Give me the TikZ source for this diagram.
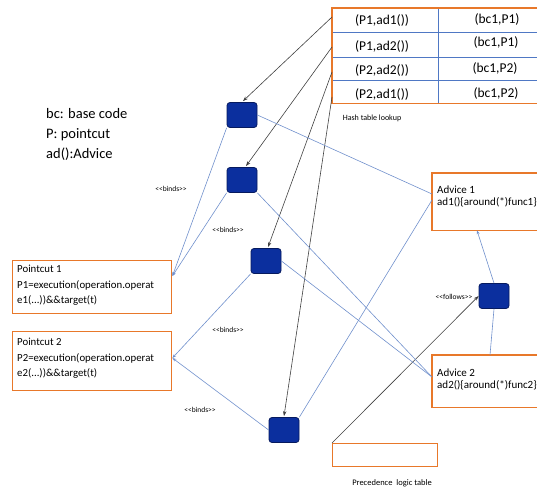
\documentclass[tikz,border=0pt]{standalone}
\usepackage{fontspec}
\setmainfont{Carlito}
\usetikzlibrary{arrows.meta,calc}
\definecolor{orng}{HTML}{E8782A}
\definecolor{lblue}{HTML}{7090CC}
\definecolor{tblue}{HTML}{4F78C4}
\definecolor{sqfill}{HTML}{0B2F9E}
\definecolor{sqdraw}{HTML}{061A5E}
\begin{document}
\begin{tikzpicture}[x=1pt,y=-1pt,
 sq/.style={draw=sqdraw,fill=sqfill,line width=0.8pt,rounded corners=3pt,minimum width=30pt,minimum height=25pt,inner sep=0pt},
 obox/.style={draw=orng,line width=1.4pt,anchor=north west,inner sep=0pt},
 openbox/.style={anchor=north west,inner sep=0pt},
 oline/.style={draw=orng,line width=1.4pt},
 btxt/.style={anchor=north west,align=left,inner sep=0pt,font=\fontsize{11}{12}\selectfont},
 ptxt/.style={anchor=north west,align=left,inner sep=0pt,font=\fontsize{10.8}{15.5}\selectfont},
 bl/.style={draw=lblue,line width=0.6pt},
 blarr/.style={bl,-{Stealth[length=4pt,width=3pt]}},
 blk/.style={draw=black!75,line width=0.6pt,-{Stealth[length=5pt,width=3.5pt]}},
 lbl/.style={font=\fontsize{7.5}{8}\selectfont,inner sep=0pt},
 ttxt/.style={font=\fontsize{13.5}{15}\selectfont,inner sep=0pt},
]
\useasboundingbox (0,0) rectangle (537,492);

% hash table (open on the right, as in the reference)
\node[openbox,minimum width=205pt,minimum height=95pt] (tbl) at (332,8) {};
\draw[tblue,line width=0.6pt] (332,32) -- (537,32) (332,57) -- (537,57) (332,80) -- (537,80) (438,8) -- (438,103);
\draw[oline] (tbl.north east) -- (tbl.north west) -- (tbl.south west) -- (tbl.south east);
\node[ttxt] (t11) at (382,21) {(P1,ad1())};
\node[ttxt] (t12) at (497,19) {(bc1,P1)};
\node[ttxt] (t21) at (382,46) {(P1,ad2())};
\node[ttxt] (t22) at (496,43) {(bc1,P1)};
\node[ttxt] (t31) at (382,70) {(P2,ad2())};
\node[ttxt] (t32) at (495,68) {(bc1,P2)};
\node[ttxt] (t41) at (382,94) {(P2,ad1())};
\node[ttxt] (t42) at (496,93) {(bc1,P2)};
\node[lbl,font=\fontsize{8}{9}\selectfont] (hash) at (372,118) {Hash table lookup};

% legend
\node[anchor=north west,align=left,inner sep=0pt,font=\fontsize{14.5}{20}\selectfont] (leg) at (46,108) {bc: base code\\P: pointcut\\ad():Advice};

% squares
\node[sq] (s1) at (242,115) {};
\node[sq] (s2) at (242,180) {};
\node[sq] (s3) at (266,261) {};
\node[sq] (s4) at (284,430) {};
\node[sq] (s5) at (494,296) {};

% pointcut boxes
\node[obox,minimum width=159pt,minimum height=53pt] (p1) at (12,260) {};
\node[ptxt] (p1t) at (17,265) {Pointcut 1\\P1=execution(operation.operat\\e1(...))\&\&target(t)};
\node[obox,minimum width=159pt,minimum height=59pt] (p2) at (12,331) {};
\node[ptxt] (p2t) at (17,338) {Pointcut 2\\P2=execution(operation.operat\\e2(...))\&\&target(t)};

% advice boxes (cut by the right edge)
\node[openbox,minimum width=105pt,minimum height=57pt] (a1) at (432,173) {};
\draw[oline] (a1.north east) -- (a1.north west) -- (a1.south west) -- (a1.south east);
\node[btxt] (a1t) at (437,186) {Advice 1\\ad1()\{around(*)func1\}};
\node[openbox,minimum width=105pt,minimum height=52pt] (a2) at (432,355) {};
\draw[oline] (a2.north east) -- (a2.north west) -- (a2.south west) -- (a2.south east);
\node[btxt] (a2t) at (437,369) {Advice 2\\ad2()\{around(*)func2\}};

% precedence table
\node[obox,minimum width=105pt,minimum height=23pt] (prec) at (332,443) {};
\node[lbl,font=\fontsize{8.5}{9}\selectfont] (preclbl) at (392,483) {Precedence\ \ logic table};

% named connector ends
\coordinate (c1) at ($(tbl.north west)+(0,9)$);
\coordinate (c2) at ($(tbl.north west)+(0,39)$);
\coordinate (c3) at ($(tbl.north west)+(0,64)$);
\coordinate (c4) at ($(tbl.north west)+(0,89)$);
\coordinate (p1in) at ($(p1.north east)+(0,16)$);
\coordinate (p2in) at ($(p2.north east)+(0,27)$);
\coordinate (a1in) at ($(a1.north west)+(0,21)$);
\coordinate (a1in2) at ($(a1.north west)+(0,27)$);
\coordinate (a2in) at ($(a2.north west)+(0,22)$);
\coordinate (a1bot) at ($(a1.south west)+(45,0)$);
\coordinate (a2top) at ($(a2.north west)+(58,0)$);

% black arrows from the table
\draw[blk] (c1) -- ($(s1.north)+(1,-1)$);
\draw[blk] (c2) -- ($(s2.north)+(4,-1)$);
\draw[blk] (c3) -- ($(s3.north)+(2,-1)$);
\draw[blk] (c4) -- ($(s4.north)+(0,-1)$);
\draw[blk] (prec.north west) -- (s5.west);

% binds
\draw[blarr] (s1.south west) -- (p1in);
\draw[blarr] (s2.south west) -- (p1in);
\draw[blarr] (s3.south west) -- (p2in);
\draw[blarr] (s4.west) -- (p2in);

% squares to advices
\draw[bl] (s1.east) -- (a1in);
\draw[bl] (s4.north east) -- (a1in2);
\draw[bl] (s2.south east) -- (a2in);
\draw[bl] (s3.east) -- (a2in);
\draw[blarr] (s5.north) -- (a1bot);
\draw[bl] (s5.south) -- (a2top);

% labels
\node[lbl] (b1) at (171,189) {{<}{<}binds{>}{>}};
\node[lbl] (b2) at (228,230) {{<}{<}binds{>}{>}};
\node[lbl] (b3) at (228,330) {{<}{<}binds{>}{>}};
\node[lbl] (b4) at (200,410) {{<}{<}binds{>}{>}};
\node[lbl] (fol) at (454,297) {{<}{<}follows{>}{>}};
\end{tikzpicture}
\end{document}
